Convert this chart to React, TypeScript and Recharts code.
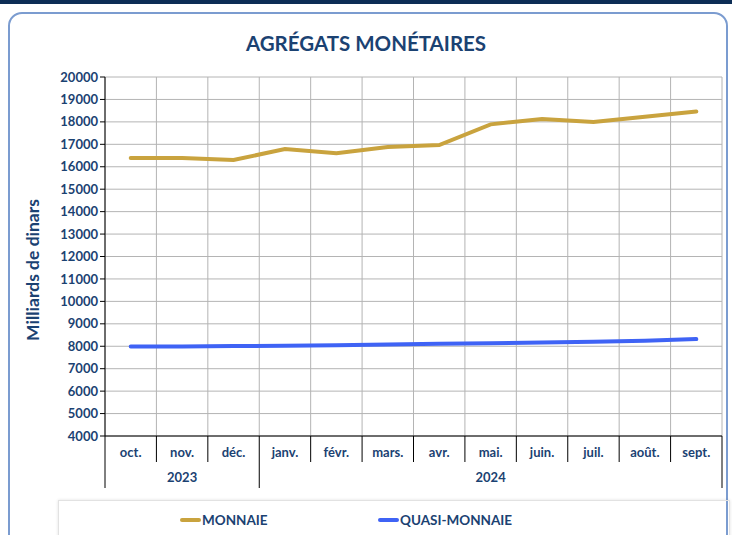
import { CartesianGrid, Line, LineChart, XAxis, YAxis } from "recharts";

const mois = ["oct.", "nov.", "déc.", "janv.", "févr.", "mars.", "avr.", "mai.", "juin.", "juil.", "août.", "sept."];
const annees = ["2023", "2023", "2023", "2024", "2024", "2024", "2024", "2024", "2024", "2024", "2024", "2024"];
const monnaie = [16390, 16390, 16300, 16790, 16600, 16880, 16970, 17890, 18130, 17990, 18230, 18460];
const quasiMonnaie = [7990, 7990, 8010, 8020, 8050, 8080, 8110, 8130, 8170, 8200, 8240, 8320];
const yTicks = [4000, 5000, 6000, 7000, 8000, 9000, 10000, 11000, 12000, 13000, 14000, 15000, 16000, 17000, 18000, 19000, 20000];

const series = [
  { key: "monnaie", name: "MONNAIE", color: "#c9a33e" },
  { key: "quasi", name: "QUASI-MONNAIE", color: "#3f63f5" },
];

const data = mois.map((m, i) => ({
  mois: m,
  annee: annees[i],
  monnaie: monnaie[i],
  quasi: quasiMonnaie[i],
}));

const W = 732;
const H = 535;
const LEFT = 105;
const RIGHT = 10;
const STEP = (W - LEFT - RIGHT) / mois.length;
const NAVY = "#1b4272";
const FONT = "Lato, 'Open Sans', sans-serif";

const MoisTick = (props: any) => {
  const { x, y, index } = props;
  const left = x - STEP / 2;
  const isFirstOfYear = index === 0 || annees[index] !== annees[index - 1];
  const count = annees.filter((a) => a === annees[index]).length;
  const last = index === mois.length - 1;
  return (
    <g>
      <text x={x} y={y + 21} textAnchor="middle" fill={NAVY} fontSize={13} fontWeight={700} fontFamily={FONT}>
        {mois[index]}
      </text>
      <line x1={left} x2={left} y1={y} y2={y + (isFirstOfYear ? 52 : 26)} stroke="#000" strokeWidth={1} />
      {last && <line x1={x + STEP / 2} x2={x + STEP / 2} y1={y} y2={y + 52} stroke="#000" strokeWidth={1} />}
      {isFirstOfYear && (
        <text x={left + (count * STEP) / 2} y={y + 46} textAnchor="middle" fill={NAVY} fontSize={13} fontWeight={700} fontFamily={FONT}>
          {annees[index]}
        </text>
      )}
    </g>
  );
};

export default function App() {
  return (
    <div style={{ position: "absolute", left: 0, top: 0, width: W, height: H, background: "#fff", overflow: "hidden", fontFamily: FONT }}>
      <div style={{ position: "absolute", left: 0, top: 0, width: W, height: 4, background: "#0d2d55" }} />
      <div
        style={{
          position: "absolute",
          left: 8,
          top: 12,
          width: 716,
          height: 560,
          border: "2px solid #7b9cd0",
          borderRadius: 14,
        }}
      />
      <div
        style={{
          position: "absolute",
          left: 0,
          top: 31,
          width: W,
          textAlign: "center",
          color: NAVY,
          fontSize: 20.5,
          fontWeight: 700,
        }}
      >
        AGRÉGATS MONÉTAIRES
      </div>
      <div
        style={{
          position: "absolute",
          left: 32,
          top: 270,
          transform: "translate(-50%, -50%) rotate(-90deg)",
          whiteSpace: "nowrap",
          color: NAVY,
          fontSize: 17.5,
          fontWeight: 700,
        }}
      >
        Milliards de dinars
      </div>
      <div style={{ position: "absolute", left: 0, top: 0 }}>
        <LineChart width={W} height={H} data={data} margin={{ top: 77, right: RIGHT, left: 55, bottom: 47 }}>
          <CartesianGrid
            stroke="#b4b4b4"
            verticalCoordinatesGenerator={({ offset }: any) =>
              mois.map((_, i) => offset.left + i * (offset.width / mois.length)).concat([offset.left + offset.width])
            }
          />
          <XAxis
            dataKey="mois"
            interval={0}
            padding={{ left: STEP / 2, right: STEP / 2 }}
            tickLine={false}
            tickSize={0}
            tickMargin={0}
            height={52}
            axisLine={{ stroke: "#000" }}
            tick={<MoisTick />}
          />
          <YAxis
            width={50}
            domain={[4000, 20000]}
            ticks={yTicks}
            interval={0}
            tickSize={5}
            tickLine={{ stroke: "#000" }}
            axisLine={{ stroke: "#000" }}
            tick={{ fill: NAVY, fontSize: 13, fontWeight: 700, fontFamily: FONT }}
          />
          {series.map((s) => (
            <Line
              key={s.key}
              dataKey={s.key}
              name={s.name}
              type="linear"
              stroke={s.color}
              strokeWidth={4}
              dot={false}
              activeDot={false}
              strokeLinecap="round"
              isAnimationActive={false}
            />
          ))}
        </LineChart>
      </div>
      <div
        style={{
          position: "absolute",
          left: 58,
          top: 500,
          width: 670,
          height: 60,
          border: "1px solid #e2e2e2",
          boxShadow: "0 0 3px rgba(0,0,0,0.12)",
        }}
      />
      {series.map((s, i) => (
        <div
          key={s.key}
          style={{
            position: "absolute",
            left: 180 + i * 198,
            top: 512,
            display: "flex",
            alignItems: "center",
            color: NAVY,
            fontSize: 13.5,
            fontWeight: 700,
          }}
        >
          <span style={{ display: "inline-block", width: 21, height: 4, borderRadius: 2, background: s.color, marginRight: 1 }} />
          {s.name}
        </div>
      ))}
    </div>
  );
}
